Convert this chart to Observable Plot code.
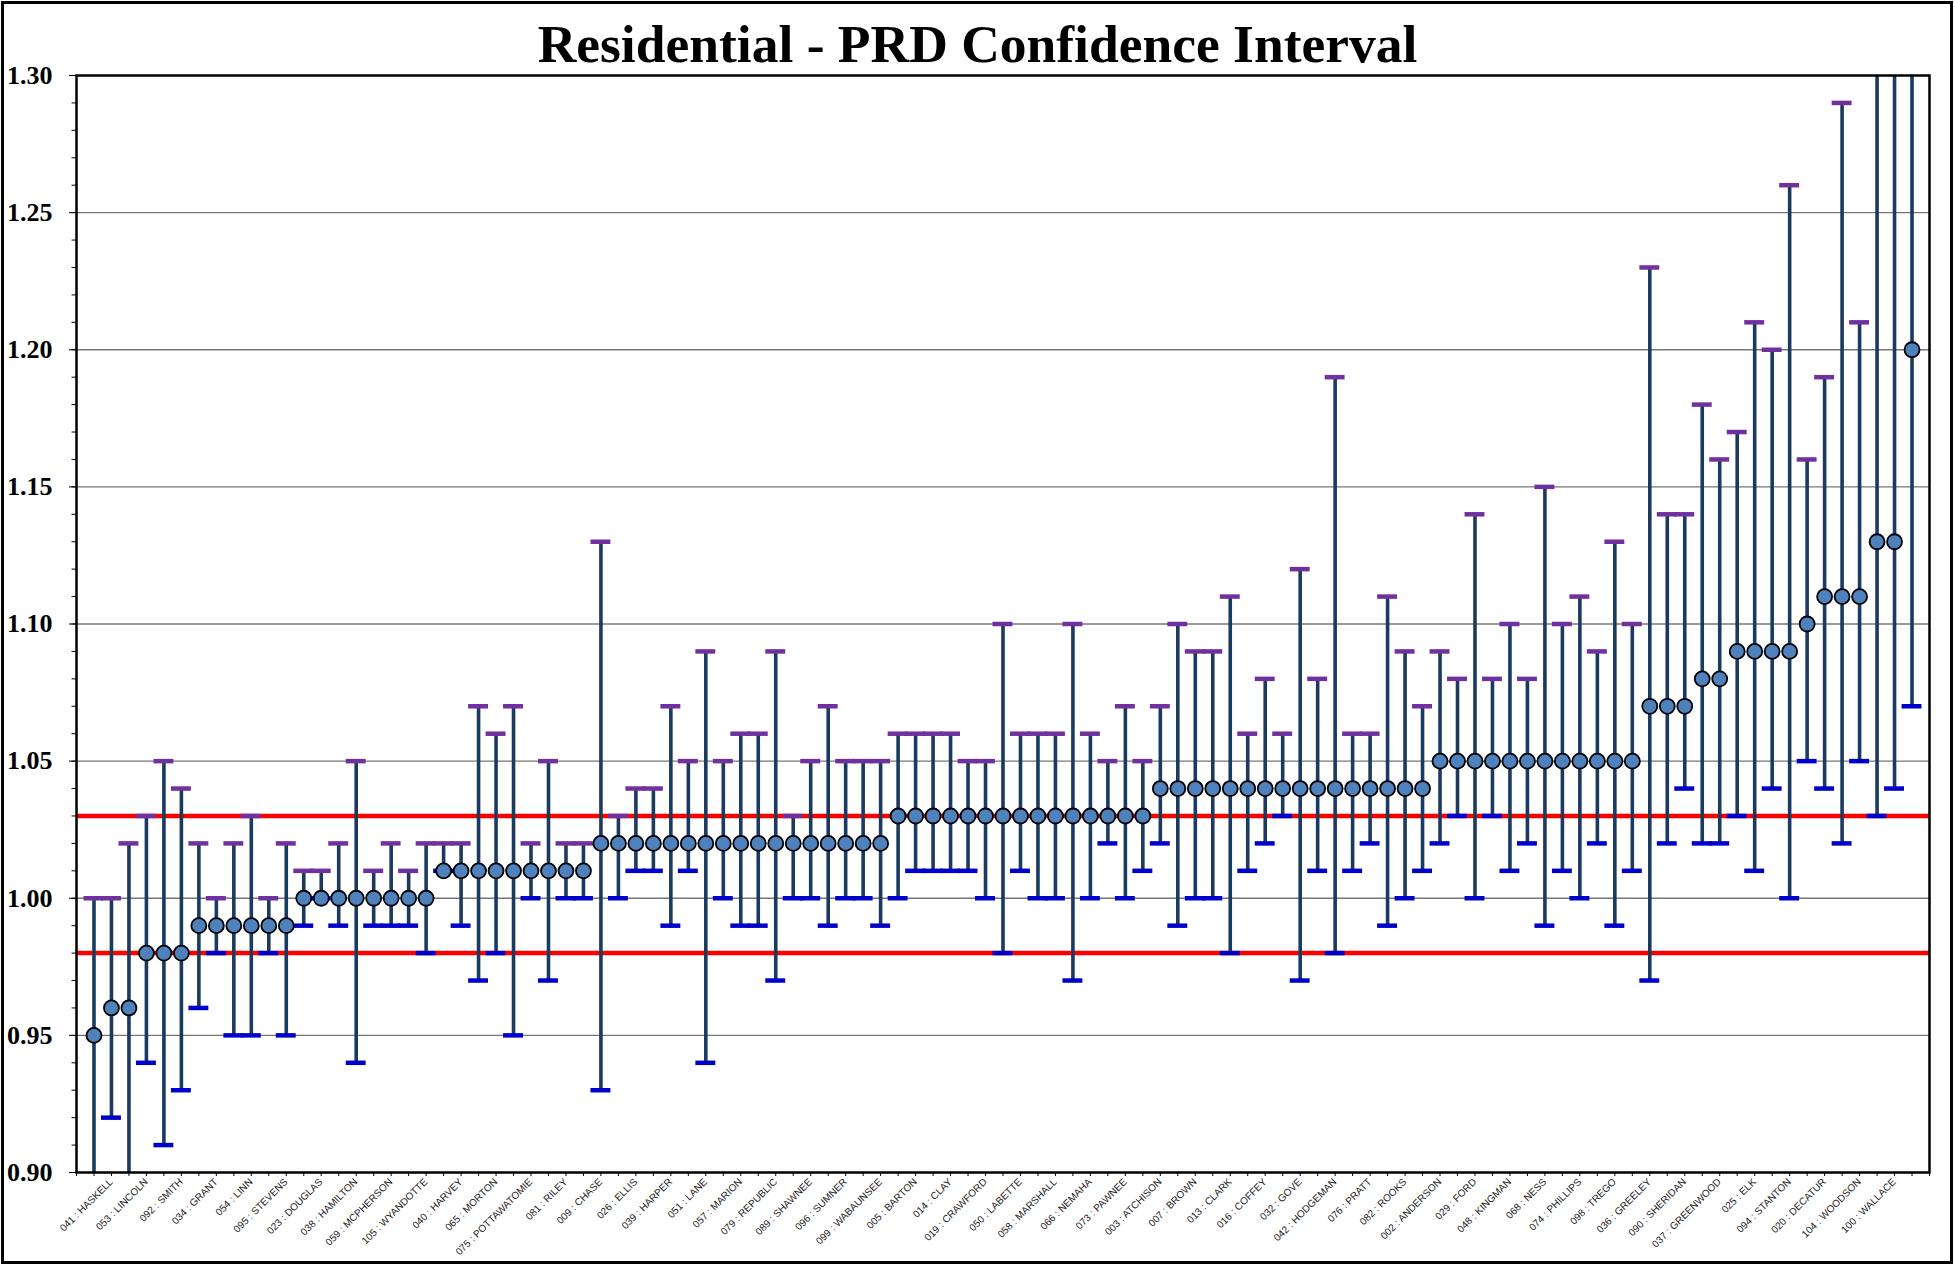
<!DOCTYPE html>
<html><head><meta charset="utf-8">
<script src="https://cdn.jsdelivr.net/npm/d3@7"></script>
<script src="https://cdn.jsdelivr.net/npm/@observablehq/plot@0.6"></script>
<style>
html,body{margin:0;padding:0;background:#fff;}
#wrap{position:relative;width:1955px;height:1266px;overflow:hidden;background:#fff;}
#title{height:60px;text-align:center;font-family:"Liberation Serif","Times New Roman",serif;font-weight:bold;font-size:53.5px;line-height:60px;padding-top:14px;box-sizing:border-box;overflow:visible;white-space:nowrap;color:#000;}
#border{position:absolute;left:1px;top:1px;width:1952px;height:1263px;border:3px solid #000;box-sizing:border-box;pointer-events:none;}
</style></head>
<body><div id="wrap"><div id="title">Residential - PRD Confidence Interval</div><div id="chart"></div><div id="border"></div></div>
<script>
// Mean PRD per county (sorted), positions 1..105
const meanPRD = [
  0.95,0.96,0.96,0.98,0.98,0.98,0.99,0.99,0.99,0.99,
  0.99,0.99,1.00,1.00,1.00,1.00,1.00,1.00,1.00,1.00,
  1.01,1.01,1.01,1.01,1.01,1.01,1.01,1.01,1.01,1.02,
  1.02,1.02,1.02,1.02,1.02,1.02,1.02,1.02,1.02,1.02,
  1.02,1.02,1.02,1.02,1.02,1.02,1.03,1.03,1.03,1.03,
  1.03,1.03,1.03,1.03,1.03,1.03,1.03,1.03,1.03,1.03,
  1.03,1.04,1.04,1.04,1.04,1.04,1.04,1.04,1.04,1.04,
  1.04,1.04,1.04,1.04,1.04,1.04,1.04,1.05,1.05,1.05,
  1.05,1.05,1.05,1.05,1.05,1.05,1.05,1.05,1.05,1.07,
  1.07,1.07,1.08,1.08,1.09,1.09,1.09,1.09,1.10,1.11,
  1.11,1.11,1.13,1.13,1.20
];
// Upper confidence limit
const upperCI = [
  1.00,1.00,1.02,1.03,1.05,1.04,1.02,1.00,1.02,1.03,
  1.00,1.02,1.01,1.01,1.02,1.05,1.01,1.02,1.01,1.02,
  1.02,1.02,1.07,1.06,1.07,1.02,1.05,1.02,1.02,1.13,
  1.03,1.04,1.04,1.07,1.05,1.09,1.05,1.06,1.06,1.09,
  1.03,1.05,1.07,1.05,1.05,1.05,1.06,1.06,1.06,1.06,
  1.05,1.05,1.10,1.06,1.06,1.06,1.10,1.06,1.05,1.07,
  1.05,1.07,1.10,1.09,1.09,1.11,1.06,1.08,1.06,1.12,
  1.08,1.19,1.06,1.06,1.11,1.09,1.07,1.09,1.08,1.14,
  1.08,1.10,1.08,1.15,1.10,1.11,1.09,1.13,1.10,1.23,
  1.14,1.14,1.18,1.16,1.17,1.21,1.20,1.26,1.16,1.19,
  1.29,1.21,1.33,1.33,1.33
];
// Lower confidence limit
const lowerCI = [
  0.89,0.92,0.89,0.94,0.91,0.93,0.96,0.98,0.95,0.95,
  0.98,0.95,0.99,1.00,0.99,0.94,0.99,0.99,0.99,0.98,
  1.01,0.99,0.97,0.98,0.95,1.00,0.97,1.00,1.00,0.93,
  1.00,1.01,1.01,0.99,1.01,0.94,1.00,0.99,0.99,0.97,
  1.00,1.00,0.99,1.00,1.00,0.99,1.00,1.01,1.01,1.01,
  1.01,1.00,0.98,1.01,1.00,1.00,0.97,1.00,1.02,1.00,
  1.01,1.02,0.99,1.00,1.00,0.98,1.01,1.02,1.03,0.97,
  1.01,0.98,1.01,1.02,0.99,1.00,1.01,1.02,1.03,1.00,
  1.03,1.01,1.02,0.99,1.01,1.00,1.02,0.99,1.01,0.97,
  1.02,1.04,1.02,1.02,1.03,1.01,1.04,1.00,1.05,1.04,
  1.02,1.05,1.03,1.04,1.07
];
// Category labels shown (every other county, positions 2,4,...,104)
const labelNames = [
  "041 : HASKELL","053 : LINCOLN","092 : SMITH","034 : GRANT","054 : LINN",
  "095 : STEVENS","023 : DOUGLAS","038 : HAMILTON","059 : MCPHERSON","105 : WYANDOTTE",
  "040 : HARVEY","065 : MORTON","075 : POTTAWATOMIE","081 : RILEY","009 : CHASE",
  "026 : ELLIS","039 : HARPER","051 : LANE","057 : MARION","079 : REPUBLIC",
  "089 : SHAWNEE","096 : SUMNER","099 : WABAUNSEE","005 : BARTON","014 : CLAY",
  "019 : CRAWFORD","050 : LABETTE","058 : MARSHALL","066 : NEMAHA","073 : PAWNEE",
  "003 : ATCHISON","007 : BROWN","013 : CLARK","016 : COFFEY","032 : GOVE",
  "042 : HODGEMAN","076 : PRATT","082 : ROOKS","002 : ANDERSON","029 : FORD",
  "048 : KINGMAN","068 : NESS","074 : PHILLIPS","098 : TREGO","036 : GREELEY",
  "090 : SHERIDAN","037 : GREENWOOD","025 : ELK","094 : STANTON","020 : DECATUR",
  "104 : WOODSON","100 : WALLACE"
];
const yMajorTicks = [0.90,0.95,1.00,1.05,1.10,1.15,1.20,1.25,1.30];
const gridValues = [0.95,1.00,1.05,1.10,1.15,1.20,1.25];
const yMinorTicks = d3.range(90,131).map(v => v/100);
const xTicks = d3.range(0,107);
const refLines = [0.98,1.03];

const rows = meanPRD.map((m,i) => ({pos: i+1, mean: m, upper: upperCI[i], lower: lowerCI[i]}));
const labelRows = labelNames.map((name,i) => ({pos: 2*(i+1), name}));
const capHalf = 0.57;

const chart = Plot.plot({
  width: 1955,
  height: 1206,
  marginTop: 15,
  marginBottom: 94,
  marginLeft: 76,
  marginRight: 26,
  style: {background: "transparent", color: "#000"},
  x: {domain: [0,106]},
  y: {domain: [0.90,1.30]},
  marks: [
    Plot.ruleY(gridValues, {stroke: "#777", strokeWidth: 1.3}),
    Plot.ruleY(refLines, {stroke: "#ff0000", strokeWidth: 4.5}),
    Plot.ruleX(rows, {x: "pos", y1: "lower", y2: "upper", stroke: "#1b3a5f", strokeWidth: 3.6, clip: true}),
    Plot.ruleY(rows, {y: "upper", x1: d => d.pos - capHalf, x2: d => d.pos + capHalf, stroke: "#7030a0", strokeWidth: 4.5, clip: true}),
    Plot.ruleY(rows, {y: "lower", x1: d => d.pos - capHalf, x2: d => d.pos + capHalf, stroke: "#0000cc", strokeWidth: 4.5, clip: true}),
    Plot.dot(rows, {x: "pos", y: "mean", r: 7.5, fill: "#4f81bd", stroke: "#000", strokeWidth: 1.8}),
    Plot.frame({stroke: "#000", strokeWidth: 2.5}),
    Plot.axisY({ticks: yMinorTicks, tickSize: 4.5, tickFormat: () => "", label: null}),
    Plot.axisY({ticks: yMajorTicks, tickSize: 7, tickPadding: 17, tickFormat: d => d.toFixed(2), label: null, fontSize: 26}),
    Plot.axisX({ticks: xTicks, tickSize: 4, tickFormat: () => "", label: null}),
    Plot.text(labelRows, {x: "pos", frameAnchor: "bottom", text: "name", rotate: -45, textAnchor: "end", dy: 10, dx: 2, fontSize: 10, fill: "#1a1a1a"})
  ]
});
document.getElementById("chart").appendChild(chart);
const svg = d3.select(chart);
svg.selectAll('[aria-label="y-axis tick label"]')
  .attr("font-weight", "bold")
  .attr("font-size", 26)
  .attr("font-family", "'Liberation Serif','Times New Roman',serif")
  .attr("fill", "#000");
svg.selectAll('[aria-label="text"]').attr("font-family", "'Liberation Sans',Arial,sans-serif");
</script>
</body></html>
